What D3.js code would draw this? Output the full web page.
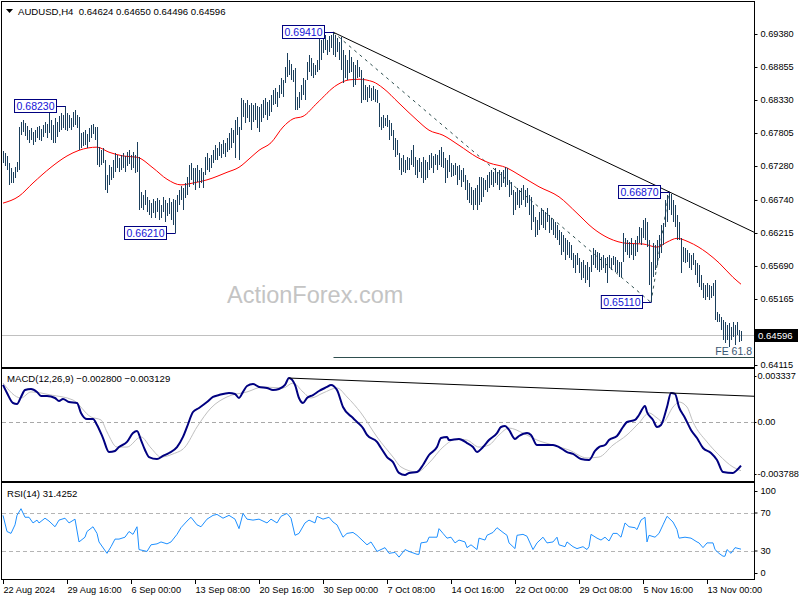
<!DOCTYPE html>
<html><head><meta charset="utf-8">
<script src="https://cdn.jsdelivr.net/npm/d3@7/dist/d3.min.js"></script>
<style>
html,body{margin:0;padding:0;background:#fff;}
svg{display:block;}
text{font-family:"Liberation Sans",Arial,sans-serif;}
</style></head>
<body>
<svg id="chart" width="800" height="600"></svg>
<script>
// ---------------- DATA ----------------
const symbol = "AUDUSD,H4";
const lastOHLC = [0.64624, 0.64650, 0.64496, 0.64596];

const highs = [
.6752,.6749,.6744,.6733,.6725,.6718,.6726,.6734,.6790,.6798,
.6801,.6796,.6792,.6785,.6788,.6782,.6785,.6790,.6792,.6787,
.6793,.6798,.6795,.6814,.6801,.6793,.6804,.6798,.6807,.6812,
.6809,.6823,.6812,.6809,.6804,.6814,.6817,.6809,.6806,.6780,
.6782,.6785,.6779,.6788,.6793,.6795,.6790,.6790,.6758,.6753,
.6757,.6738,.6714,.6730,.6726,.6738,.6749,.6746,.6741,.6746,
.6749,.6744,.6750,.6753,.6746,.6750,.6746,.6766,.6742,.6687,
.6682,.6690,.6679,.6674,.6669,.6676,.6672,.6677,.6674,.6666,
.6679,.6674,.6669,.6677,.6671,.6676,.6674,.6682,.6690,.6696,
.6693,.6701,.6711,.6730,.6733,.6725,.6725,.6730,.6722,.6725,
.6718,.6742,.6749,.6741,.6746,.6753,.6761,.6757,.6766,.6763,
.6769,.6765,.6772,.6780,.6788,.6785,.6801,.6806,.6790,.6836,
.6833,.6828,.6833,.6825,.6828,.6825,.6828,.6823,.6822,.6827,
.6833,.6836,.6830,.6833,.6841,.6849,.6852,.6846,.6857,.6868,
.6865,.6885,.6908,.6897,.6890,.6881,.6884,.6838,.6846,.6857,
.6868,.6865,.6893,.6905,.6900,.6892,.6889,.6897,.6940,.6928,
.6932,.6936,.6928,.6935,.6936,.6941,.6936,.6932,.6925,.6933,
.6913,.6905,.6897,.6913,.6901,.6893,.6889,.6897,.6885,.6881,
.6868,.6857,.6854,.6857,.6852,.6855,.6850,.6849,.6828,.6806,
.6809,.6804,.6809,.6801,.6796,.6785,.6772,.6769,.6749,.6741,
.6746,.6738,.6742,.6741,.6753,.6761,.6742,.6738,.6741,.6734,
.6742,.6738,.6734,.6746,.6749,.6744,.6747,.6746,.6753,.6758,
.6750,.6741,.6738,.6746,.6733,.6730,.6733,.6728,.6730,.6722,
.6725,.6714,.6706,.6701,.6695,.6690,.6693,.6698,.6711,.6711,
.6709,.6706,.6714,.6718,.6722,.6718,.6725,.6718,.6722,.6718,
.6722,.6726,.6725,.6706,.6703,.6690,.6687,.6693,.6690,.6693,
.6698,.6690,.6693,.6682,.6679,.6666,.6647,.6642,.6655,.6661,
.6658,.6655,.6661,.6650,.6645,.6642,.6639,.6634,.6626,.6623,
.6618,.6613,.6610,.6607,.6602,.6590,.6587,.6590,.6582,.6575,
.6578,.6570,.6575,.6567,.6587,.6597,.6594,.6591,.6590,.6583,
.6587,.6582,.6583,.6587,.6582,.6585,.6583,.6578,.6575,.6575,
.6621,.6613,.6610,.6607,.6613,.6604,.6610,.6617,.6631,.6629,
.6642,.6645,.6639,.6610,.6575,.6605,.6602,.6610,.6618,.6634,
.6637,.6674,.6682,.6687,.6683,.6674,.6666,.6650,.6639,.6613,
.6599,.6597,.6594,.6590,.6587,.6590,.6578,.6574,.6570,.6555,
.6542,.6539,.6542,.6539,.6537,.6542,.6547,.6496,.6492,.6488,
.6483,.6480,.6475,.6478,.6472,.6480,.6475,.6480,.6467,.6465];

const lows = [
.6733,.6728,.6722,.6698,.6701,.6701,.6709,.6718,.6722,.6777,
.6782,.6776,.6769,.6765,.6769,.6761,.6766,.6772,.6769,.6768,
.6774,.6780,.6772,.6780,.6769,.6765,.6765,.6774,.6782,.6785,
.6788,.6785,.6784,.6788,.6785,.6790,.6793,.6788,.6753,.6757,
.6760,.6761,.6757,.6766,.6772,.6779,.6769,.6730,.6726,.6730,
.6733,.6690,.6685,.6698,.6706,.6709,.6718,.6725,.6718,.6722,
.6725,.6718,.6728,.6731,.6722,.6725,.6717,.6718,.6658,.6661,
.6658,.6666,.6655,.6650,.6645,.6653,.6645,.6655,.6642,.6645,
.6655,.6639,.6648,.6652,.6642,.6634,.6621,.6655,.6666,.6674,
.6658,.6677,.6682,.6695,.6706,.6698,.6690,.6703,.6693,.6701,
.6693,.6714,.6722,.6718,.6725,.6733,.6738,.6738,.6744,.6741,
.6747,.6742,.6750,.6753,.6757,.6765,.6741,.6777,.6738,.6785,
.6806,.6796,.6804,.6798,.6785,.6798,.6801,.6788,.6782,.6798,
.6804,.6809,.6801,.6807,.6814,.6825,.6827,.6822,.6836,.6843,
.6838,.6860,.6870,.6873,.6865,.6862,.6817,.6817,.6820,.6833,
.6841,.6833,.6865,.6877,.6871,.6868,.6873,.6877,.6881,.6897,
.6908,.6913,.6905,.6909,.6916,.6905,.6901,.6909,.6897,.6881,
.6860,.6868,.6865,.6876,.6877,.6854,.6857,.6868,.6870,.6828,
.6833,.6833,.6830,.6836,.6831,.6833,.6830,.6828,.6790,.6785,
.6788,.6792,.6790,.6769,.6776,.6753,.6742,.6746,.6722,.6714,
.6718,.6717,.6722,.6722,.6730,.6726,.6714,.6709,.6718,.6709,
.6701,.6706,.6709,.6722,.6725,.6717,.6730,.6722,.6730,.6726,
.6725,.6701,.6709,.6718,.6711,.6712,.6714,.6698,.6706,.6695,
.6703,.6690,.6674,.6669,.6666,.6658,.6666,.6658,.6666,.6671,
.6679,.6690,.6687,.6693,.6698,.6695,.6701,.6698,.6690,.6695,
.6701,.6695,.6698,.6679,.6682,.6650,.6658,.6666,.6661,.6666,
.6674,.6663,.6669,.6650,.6626,.6639,.6615,.6618,.6626,.6634,
.6629,.6626,.6639,.6621,.6626,.6618,.6613,.6610,.6602,.6587,
.6591,.6578,.6587,.6582,.6578,.6566,.6558,.6570,.6558,.6547,
.6550,.6542,.6547,.6535,.6559,.6570,.6566,.6563,.6559,.6563,
.6566,.6558,.6542,.6566,.6563,.6570,.6559,.6558,.6551,.6551,
.6575,.6591,.6587,.6582,.6587,.6578,.6585,.6591,.6605,.6602,
.6613,.6610,.6599,.6539,.6511,.6551,.6563,.6570,.6582,.6590,
.6602,.6631,.6639,.6658,.6650,.6639,.6631,.6610,.6610,.6558,
.6575,.6574,.6575,.6566,.6563,.6570,.6555,.6542,.6535,.6531,
.6518,.6515,.6519,.6515,.6518,.6521,.6483,.6480,.6480,.6467,
.6451,.6446,.6451,.6440,.6451,.6456,.6443,.6459,.6448,.64496];

// moving average [bar index, value]
const maPoints = [[0,.6669],[8,.6680],[15,.6701],[24,.6726],[32,.6744],[38,.6753],[47,.6758],[53,.6750],[60,.6744],[67,.6742],
[75,.6725],[82,.6707],[89,.6698],[95,.6701],[102,.6706],[112,.6718],[118,.6726],[124,.6742],[128,.6753],[134,.6765],
[140,.6790],[145,.6803],[150,.6807],[157,.6828],[167,.6857],[173,.6865],[178,.6866],[185,.6862],[190,.6852],[198,.6828],
[207,.6801],[213,.6785],[220,.6777],[228,.6761],[237,.6742],[243,.6733],[252,.6725],[258,.6714],[268,.6695],[278,.6679],
[287,.6653],[295,.6629],[303,.6613],[312,.6605],[320,.6604],[327,.6599],[332,.6607],[337,.6613],[343,.6607],[352,.6590],
[358,.6574],[365,.6551],[369,.6540]];

const macdPoints = [[0,.00238],[2,.00186],[5,.00122],[7,.00116],[9,.00161],[11,.00205],[14,.00212],[17,.00193],[19,.00167],[22,.00167],
[26,.00154],[28,.00135],[30,.00148],[33,.00128],[37,.00122],[39,.00058],[42,.00019],[45,.00019],[47,-.00019],[50,-.00103],
[53,-.00193],[56,-.00186],[58,-.00161],[62,-.00128],[65,-.00071],[67,-.00058],[69,-.00116],[71,-.00180],[73,-.00225],[77,-.00238],
[80,-.00218],[83,-.00199],[87,-.00161],[90,-.00096],[92,-.00032],[95,.00064],[98,.00090],[102,.00128],[105,.00161],[108,.00173],
[113,.00186],[116,.00180],[118,.00154],[120,.00193],[122,.00231],[125,.00244],[128,.00225],[132,.00218],[135,.00205],[138,.00212],
[141,.00238],[143,.00282],[146,.00238],[148,.00154],[150,.00122],[152,.00154],[155,.00173],[158,.00199],[162,.00225],[164,.00238],
[167,.00205],[170,.00096],[175,.00026],[177,0],[180,-.00039],[182,-.00083],[187,-.00128],[189,-.00167],[192,-.00225],[195,-.00257],
[198,-.00327],[201,-.00340],[203,-.00327],[207,-.00321],[210,-.00276],[213,-.00212],[217,-.00161],[219,-.00103],[222,-.00096],[223,-.00116],
[228,-.00109],[232,-.00135],[235,-.00161],[237,-.00193],[240,-.00161],[243,-.00116],[247,-.00071],[249,-.00032],[251,-.00026],[253,-.00051],
[256,-.00109],[258,-.00090],[262,-.00071],[264,-.00083],[267,-.00148],[270,-.00148],[275,-.00148],[278,-.00161],[282,-.00193],[285,-.00205],
[289,-.00238],[293,-.00244],[296,-.00186],[298,-.00161],[301,-.00148],[303,-.00116],[307,-.00090],[310,-.00032],[312,0],[316,.00013],
[318,.00045],[321,.00103],[322,.00064],[325,.00013],[327,-.00032],[329,-.00019],[332,.00096],[334,.00186],[336,.00180],[338,.00096],
[341,.00026],[344,-.00051],[347,-.00103],[350,-.00167],[354,-.00199],[357,-.00244],[360,-.00321],[365,-.00327],[367,-.00308],[369,-.00280]];

const signalPoints = [[0,.0025],[9,.00154],[14,.00193],[24,.00173],[35,.00141],[44,.00032],[49,.00013],[52,-.00064],[57,-.00161],[62,-.00161],
[69,-.00096],[74,-.00167],[79,-.00225],[85,-.00205],[91,-.00161],[97,-.00032],[104,.00090],[112,.00161],[122,.00193],[130,.00225],
[140,.00218],[145,.00250],[150,.00193],[154,.00154],[160,.00186],[167,.00218],[172,.00161],[179,.00058],[187,-.00096],[195,-.00225],
[199,-.00289],[207,-.00321],[213,-.00263],[220,-.00161],[227,-.00109],[232,-.00116],[238,-.00161],[243,-.00148],[248,-.00083],[253,-.00039],
[260,-.00071],[267,-.00116],[275,-.00148],[283,-.00180],[292,-.00231],[298,-.00225],[305,-.00148],[312,-.00083],[318,-.00006],[323,.00058],
[327,.00026],[330,0],[335,.00096],[338,.00128],[342,.00096],[345,0],[352,-.00128],[358,-.00212],[365,-.00289],[369,-.003129]];

const rsiPoints = [[0,67],[2,50],[4,48],[6,57],[7,67],[9,74],[11,65],[13,65],[15,59],[17,62],[18,59],[21,64],[23,61],[26,55],[28,62],
[31,64],[33,59],[36,63],[38,39],[41,44],[42,50],[45,55],[47,48],[48,39],[52,27],[54,34],[56,42],[58,42],[61,44],[63,50],
[65,47],[67,55],[68,31],[72,29],[74,36],[77,37],[79,39],[82,37],[84,39],[87,47],[89,54],[92,61],[94,65],[97,57],[99,55],
[102,63],[105,67],[107,68],[110,64],[113,67],[116,63],[118,53],[120,69],[122,63],[125,62],[128,63],[132,59],[134,63],[137,59],[139,66],
[142,69],[144,64],[146,46],[148,48],[151,59],[153,62],[156,59],[157,66],[160,63],[163,65],[165,60],[167,57],[170,44],[172,48],[175,49],
[177,46],[179,42],[182,36],[184,39],[187,29],[191,33],[193,27],[196,28],[198,23],[201,31],[203,29],[207,26],[208,26],[209,38],[212,39],
[213,44],[217,44],[218,53],[220,48],[222,43],[224,44],[226,38],[228,41],[231,39],[232,33],[234,36],[237,31],[238,43],[241,41],[242,46],
[245,49],[247,54],[250,49],[252,46],[253,38],[256,32],[257,46],[260,47],[262,45],[265,31],[267,38],[270,44],[272,38],[275,39],[277,44],
[278,36],[281,34],[282,39],[285,34],[287,32],[290,34],[292,31],[293,34],[294,47],[297,43],[299,41],[301,44],[303,40],[305,48],[307,48],
[309,44],[311,59],[313,55],[316,54],[317,52],[319,62],[321,65],[322,39],[323,46],[326,44],[328,48],[330,57],[332,66],[335,60],[337,52],
[338,43],[341,44],[344,43],[347,39],[348,38],[350,33],[352,38],[355,38],[356,31],[358,27],[360,24],[361,24],[362,31],[364,27],[366,33],[369,31.4252]];

const macdLast = [-0.002800, -0.003129];
const rsiLast = 31.4252;

const priceTicks = [0.69380,0.68855,0.68330,0.67805,0.67280,0.66740,0.66215,0.65690,0.65165,0.64115];
const macdTicks = [0.003337, 0, -0.003788];
const macdTickLabels = ["0.003337","0.00","-0.003788"];
const rsiTicks = [100,70,30,0];
const rsiLevels = [70,30];

const timeIdx = [0,32,64,96,128,160,192,224,256,288,320,352];
const timeLabels = ["22 Aug 2024","29 Aug 16:00","6 Sep 00:00","13 Sep 08:00","20 Sep 16:00","30 Sep 00:00",
                    "7 Oct 08:00","14 Oct 16:00","22 Oct 00:00","29 Oct 08:00","5 Nov 16:00","13 Nov 00:00"];

// swing labels
const swingIdx   = [31, 86, 165, 333, 324];
const swingPrice = [0.68230, 0.66210, 0.69410, 0.66870, 0.65110];

// trend lines (bar index, value)
const trendA = [165, 0.6941], trendB = [333, 0.6687];
const dashA = [[165, 0.6941],[324, 0.6511]];
const dashB = [[324, 0.6511],[333, 0.6687]];
const feStart = 165, feLevel = 0.6424, feLabel = "FE 61.8";
const macdTrendA = [143, 0.00282], macdTrendB = [334, 0.00186];

// ---------------- DRAWING ----------------
const svg = d3.select('#chart');
const N = highs.length;
const RX = 754;
const FONT = '"Liberation Sans",Arial,sans-serif';
const AXF = 9.2;

const x  = d3.scaleLinear().domain([0, N-1]).range([3, 3 + 2*(N-1)]);
const yP = d3.scaleLinear().domain([0.64115, 0.69380]).range([365, 34]);
const yM = d3.scaleLinear().domain([-0.003788, 0.003337]).range([481, 370]);
const yR = d3.scaleLinear().domain([0, 100]).range([579, 484]);
const px = i => Math.round(x(i)) + 0.5;
const crisp = v => Math.round(v) + 0.5;

const defs = svg.append('defs');
function clip(id, y0, y1){
  defs.append('clipPath').attr('id', id).append('rect')
    .attr('x', 2).attr('y', y0).attr('width', RX - 2).attr('height', y1 - y0);
}
clip('cMain', 2, 367); clip('cMacd', 370, 481); clip('cRsi', 484, 579);

function extLine(a, b, xs, ys){
  const s = (b[1]-a[1])/(b[0]-a[0]);
  const iEnd = x.invert(RX);
  return [[xs(a[0]), ys(a[1])], [RX, ys(a[1] + s*(iEnd - a[0]))]];
}

// ---- main panel
const gMain = svg.append('g').attr('clip-path', 'url(#cMain)');
gMain.append('text').attr('x', 227).attr('y', 303).attr('font-size', 23.5)
  .attr('fill', '#c4c4c4').text('ActionForex.com');

const cy = crisp(yP(lastOHLC[3]));
gMain.append('line').attr('x1', 2).attr('x2', RX).attr('y1', cy).attr('y2', cy)
  .attr('stroke', '#c0c0c0');

const fy = crisp(yP(feLevel));
gMain.append('line').attr('x1', px(feStart)).attr('x2', RX).attr('y1', fy).attr('y2', fy)
  .attr('stroke', '#2f4f4f');
gMain.append('text').attr('x', 752).attr('y', fy - 3).attr('text-anchor', 'end')
  .attr('font-size', 10.5).attr('fill', '#3a5672').text(feLabel);

// dashed lines
[dashA, dashB].forEach(d => {
  gMain.append('line').attr('x1', x(d[0][0])).attr('y1', yP(d[0][1]))
    .attr('x2', x(d[1][0])).attr('y2', yP(d[1][1]))
    .attr('stroke', '#2f4f4f').attr('stroke-dasharray', '3,4');
});

// MA
gMain.append('path').datum(maPoints)
  .attr('d', d3.line().x(d => x(d[0])).y(d => yP(d[1])).curve(d3.curveMonotoneX))
  .attr('fill', 'none').attr('stroke', '#ff0000').attr('stroke-width', 1);

// bars
gMain.append('g').selectAll('line').data(d3.range(N)).join('line')
  .attr('x1', px).attr('x2', px)
  .attr('y1', i => Math.round(yP(highs[i])))
  .attr('y2', i => Math.max(Math.round(yP(lows[i])), Math.round(yP(highs[i])) + 1))
  .attr('stroke', '#1b3f5c').attr('stroke-width', 1).attr('shape-rendering', 'crispEdges');

// trend line
const tl = extLine(trendA, trendB, x, yP);
gMain.append('line').attr('x1', tl[0][0]).attr('y1', tl[0][1]).attr('x2', tl[1][0]).attr('y2', tl[1][1])
  .attr('stroke', '#000').attr('stroke-width', 1);

// swing labels
swingIdx.forEach((bi, k) => {
  const p = swingPrice[k];
  const yy = Math.round(yP(p));
  const bx = px(bi);
  const g = gMain.append('g');
  const t = g.append('text').attr('font-size', 10.5).attr('fill', '#1414d8')
    .attr('y', yy + 4).text(d3.format('.5f')(p));
  const w = t.node().getComputedTextLength() + 4;
  const right = Math.round(bx - 10);
  const left = right - w;
  g.insert('rect', 'text').attr('x', left + 0.5).attr('y', yy - 6.5).attr('width', w).attr('height', 13)
    .attr('fill', '#fff').attr('stroke', '#000080');
  t.attr('x', left + 2.5);
  g.append('line').attr('x1', right + 0.5).attr('x2', bx).attr('y1', yy + 0.5).attr('y2', yy + 0.5)
    .attr('stroke', '#000080');
  const ext = Math.abs(yP(highs[bi]) - yy) < Math.abs(yP(lows[bi]) - yy) ? yP(highs[bi]) : yP(lows[bi]);
  g.append('line').attr('x1', bx).attr('x2', bx).attr('y1', yy + 0.5).attr('y2', ext)
    .attr('stroke', '#000080');
});

// header
svg.append('path').attr('d', 'M6,9L13,9L9.5,13Z').attr('fill', '#000');
svg.append('text').attr('x', 18).attr('y', 15).attr('font-size', 9.6).attr('fill', '#000')
  .style('white-space', 'pre')
  .text(symbol + '  ' + lastOHLC.map(d3.format('.5f')).join(' '));

// ---- MACD panel
const gM = svg.append('g').attr('clip-path', 'url(#cMacd)');
const zy = crisp(yM(0));
gM.append('line').attr('x1', 2).attr('x2', RX).attr('y1', zy).attr('y2', zy)
  .attr('stroke', '#a8a8a8').attr('stroke-dasharray', '4,3');
gM.append('path').datum(signalPoints)
  .attr('d', d3.line().x(d => x(d[0])).y(d => yM(d[1])).curve(d3.curveMonotoneX))
  .attr('fill', 'none').attr('stroke', '#c0c0c0').attr('stroke-width', 1);
gM.append('path').datum(macdPoints)
  .attr('d', d3.line().x(d => x(d[0])).y(d => yM(d[1])).curve(d3.curveMonotoneX))
  .attr('fill', 'none').attr('stroke', '#000080').attr('stroke-width', 2);
const ml = extLine(macdTrendA, macdTrendB, x, yM);
gM.append('line').attr('x1', ml[0][0]).attr('y1', ml[0][1]).attr('x2', ml[1][0]).attr('y2', ml[1][1])
  .attr('stroke', '#000').attr('stroke-width', 1);
svg.append('text').attr('x', 7).attr('y', 382).attr('font-size', 9.6).attr('fill', '#000')
  .text('MACD(12,26,9) ' + d3.format('.6f')(macdLast[0]) + ' ' + d3.format('.6f')(macdLast[1]));

// ---- RSI panel
const gR = svg.append('g').attr('clip-path', 'url(#cRsi)');
rsiLevels.forEach(l => {
  const ly = crisp(yR(l));
  gR.append('line').attr('x1', 2).attr('x2', RX).attr('y1', ly).attr('y2', ly)
    .attr('stroke', '#b4b4b4').attr('stroke-dasharray', '4,3');
});
gR.append('path').datum(rsiPoints)
  .attr('d', d3.line().x(d => x(d[0])).y(d => yR(d[1])))
  .attr('fill', 'none').attr('stroke', '#1e90ff').attr('stroke-width', 1);
svg.append('text').attr('x', 7).attr('y', 497).attr('font-size', 9.6).attr('fill', '#000')
  .text('RSI(14) ' + rsiLast.toFixed(4));

// ---- frames
[[2, 367], [369, 481], [483, 579]].forEach(([a, b]) => {
  svg.append('rect').attr('x', 1.5).attr('y', a - 0.5).attr('width', RX - 1).attr('height', b - a + 1)
    .attr('fill', 'none').attr('stroke', '#000');
});

// ---- axes
function styleAxis(g){
  g.select('.domain').remove();
  g.selectAll('text').attr('font-family', FONT).attr('font-size', AXF).attr('fill', '#000');
  g.selectAll('line').attr('stroke', '#000');
}
const gP = svg.append('g').attr('transform', `translate(${RX + 0.5},0)`)
  .call(d3.axisRight(yP).tickValues(priceTicks).tickSize(3).tickPadding(3).tickFormat(d3.format('.5f')));
styleAxis(gP);

// current price tag
svg.append('rect').attr('x', RX + 1).attr('y', Math.round(yP(lastOHLC[3])) - 6).attr('width', 43).attr('height', 13)
  .attr('fill', '#000');
svg.append('text').attr('x', RX + 4).attr('y', Math.round(yP(lastOHLC[3])) + 4).attr('font-size', 9.6)
  .attr('fill', '#fff').text(d3.format('.5f')(lastOHLC[3]));

const gMA = svg.append('g').attr('transform', `translate(${RX + 0.5},0)`)
  .call(d3.axisRight(yM).tickValues(macdTicks).tickSize(2).tickPadding(1).tickFormat((d, k) => macdTickLabels[k]));
styleAxis(gMA);
gMA.selectAll('.tick').filter(d => d === macdTicks[0]).attr('transform', `translate(0,${crisp(yM(macdTicks[0])) + 6})`);
gMA.selectAll('.tick').filter(d => d === macdTicks[2]).attr('transform', `translate(0,${crisp(yM(macdTicks[2])) - 7})`);

const gRA = svg.append('g').attr('transform', `translate(${RX + 0.5},0)`)
  .call(d3.axisRight(yR).tickValues(rsiTicks).tickSize(3).tickPadding(3));
styleAxis(gRA);
gRA.selectAll('.tick').filter(d => d === 100).attr('transform', `translate(0,${crisp(yR(100)) + 7})`);
gRA.selectAll('.tick').filter(d => d === 0).attr('transform', `translate(0,${crisp(yR(0)) - 6})`);

const gT = svg.append('g').attr('transform', `translate(0,580)`)
  .call(d3.axisBottom(x).tickValues(timeIdx).tickSize(4).tickPadding(2).tickFormat((d, k) => timeLabels[k]));
styleAxis(gT);
gT.selectAll('text').attr('text-anchor', 'start');
</script>
</body></html>
